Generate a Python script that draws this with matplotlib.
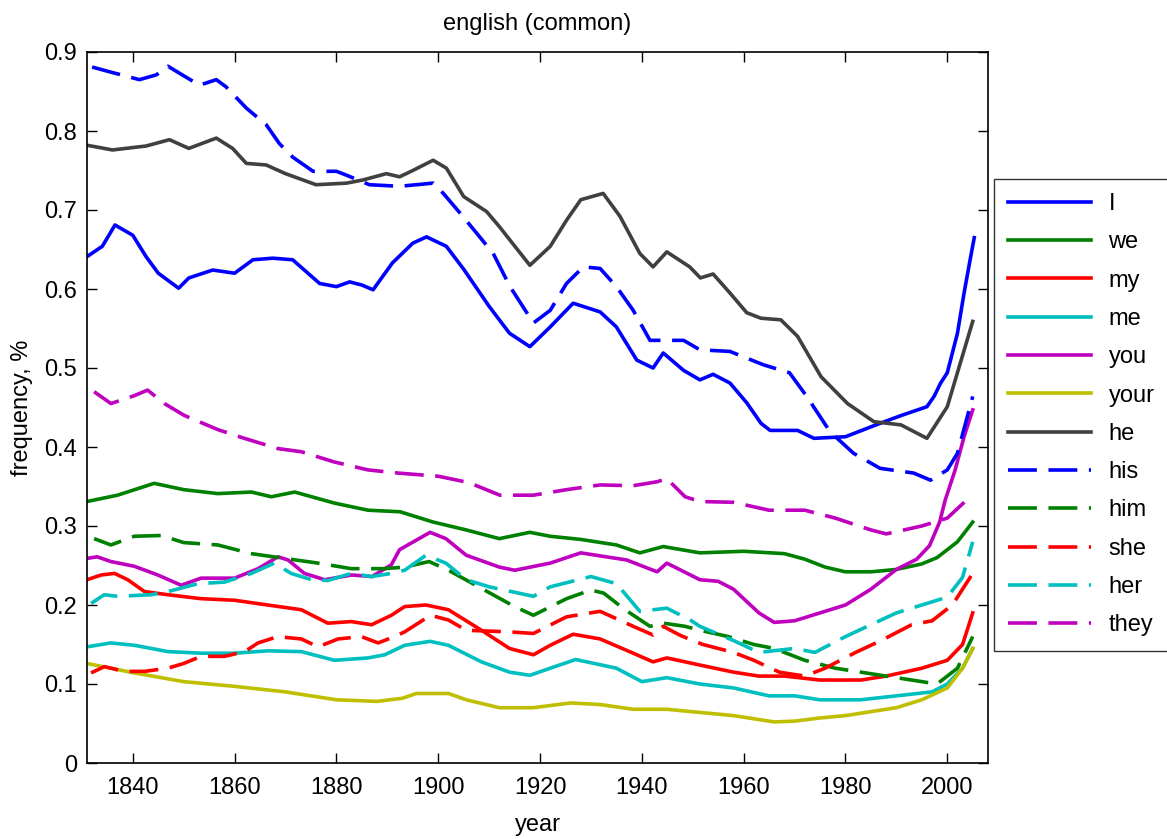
import matplotlib
matplotlib.use("Agg")
import matplotlib.pyplot as plt

# ---- data ----
I_years = [1831, 1834, 1836.5, 1840, 1842.6, 1845, 1849, 1851, 1855.7, 1860, 1863.6, 1867.5, 1871.4, 1876.7, 1880,
           1882.6, 1885, 1887.2, 1891, 1895, 1897.7, 1901.6, 1905, 1910, 1914, 1918, 1922, 1926.5, 1931.8, 1935, 1939,
           1942.2, 1944.2, 1948.2, 1951.4, 1954, 1957.3, 1960.6, 1963.4, 1965.2, 1970.6, 1973.8, 1980, 1986.8, 1991,
           1996, 1997.4, 1998.7, 2000, 2002, 2003.3, 2004.6, 2005.3]
I_vals = [0.641, 0.654, 0.681, 0.668, 0.641, 0.620, 0.601, 0.614, 0.624, 0.620, 0.637, 0.639, 0.637, 0.607, 0.603,
          0.609, 0.605, 0.599, 0.633, 0.658, 0.666, 0.654, 0.625, 0.578, 0.544, 0.527, 0.552, 0.582, 0.571, 0.552, 0.510,
          0.500, 0.519, 0.497, 0.485, 0.492, 0.481, 0.456, 0.430, 0.421, 0.421, 0.411, 0.413, 0.430, 0.440,
          0.451, 0.464, 0.481, 0.494, 0.544, 0.595, 0.641, 0.665]

we_years = [1831, 1837, 1844.2, 1850, 1856.7, 1863.3, 1867.2, 1871.8, 1879.6, 1886.2, 1892.5, 1899, 1905.5, 1912,
            1918, 1922, 1928, 1935, 1939.6, 1944.2, 1951.4, 1960, 1968, 1972, 1976, 1980, 1985, 1990, 1995, 1998,
            2002, 2005]
we_vals = [0.331, 0.339, 0.354, 0.346, 0.341, 0.343, 0.337, 0.343, 0.329, 0.320, 0.318, 0.305, 0.295, 0.284,
           0.292, 0.287, 0.283, 0.276, 0.266, 0.274, 0.266, 0.268, 0.265, 0.258, 0.248, 0.242, 0.242, 0.245, 0.252,
           0.260, 0.280, 0.305]

my_years = [1831, 1833.8, 1836.4, 1839, 1842.3, 1846.9, 1853.4, 1860, 1866.5, 1873.1, 1878.3, 1882.9, 1886.9,
            1890.8, 1893.4, 1897.6, 1902, 1908.5, 1914, 1918.7, 1922, 1926.5, 1931.8, 1938.3, 1942.2, 1944.9,
            1951.4, 1958, 1963, 1968, 1975, 1983, 1988, 1995, 2000, 2003, 2005]
my_vals = [0.232, 0.238, 0.240, 0.232, 0.217, 0.213, 0.208, 0.206, 0.200, 0.194, 0.177, 0.179, 0.175,
           0.187, 0.198, 0.200, 0.194, 0.168, 0.145, 0.137, 0.149, 0.163, 0.157, 0.139, 0.128, 0.133,
           0.124, 0.115, 0.110, 0.110, 0.105, 0.105, 0.110, 0.120, 0.130, 0.150, 0.190]

me_years = [1831, 1835.7, 1840.3, 1846.9, 1853.4, 1860, 1866.5, 1873.1, 1879.6, 1886.2, 1889.5, 1893.4, 1898.4,
            1902, 1908.5, 1914, 1918, 1922, 1927, 1935, 1940, 1944.9, 1951.4, 1958, 1965, 1970, 1975, 1983, 1990,
            1997, 2000, 2003, 2005]
me_vals = [0.147, 0.152, 0.149, 0.141, 0.139, 0.139, 0.142, 0.141, 0.130, 0.133, 0.137, 0.149, 0.154,
           0.149, 0.128, 0.115, 0.111, 0.120, 0.131, 0.120, 0.103, 0.108, 0.100, 0.095, 0.085, 0.085, 0.080, 0.080,
           0.085, 0.090, 0.100, 0.120, 0.145]

you_years = [1831, 1833, 1835.7, 1840.3, 1844.9, 1849.5, 1853.4, 1860, 1864.6, 1868.5, 1870.5, 1873.7, 1877.7,
             1883, 1887, 1890.8, 1892.4, 1898.4, 1901.5, 1905.5, 1912, 1915, 1922, 1928, 1932, 1937, 1943, 1944.9,
             1951.4, 1955, 1958, 1963, 1966, 1970, 1975, 1980, 1985, 1990, 1994, 1996.5, 1998.5, 1999.6, 2001.5,
             2003.3, 2005]
you_vals = [0.259, 0.261, 0.255, 0.249, 0.238, 0.225, 0.234, 0.234, 0.246, 0.261, 0.257, 0.240, 0.232,
            0.238, 0.236, 0.251, 0.270, 0.292, 0.284, 0.263, 0.248, 0.244, 0.253, 0.266, 0.262, 0.257, 0.242, 0.253,
            0.232, 0.230, 0.220, 0.190, 0.178, 0.180, 0.190, 0.200, 0.220, 0.245, 0.258, 0.275, 0.305, 0.333, 0.370,
            0.413, 0.447]

your_years = [1831, 1840.3, 1850, 1860, 1870, 1880, 1888, 1893, 1895.7, 1902, 1905.5, 1912, 1918.7, 1926, 1931.8,
              1938.3, 1944.9, 1951.4, 1958, 1966, 1970, 1975, 1980, 1985, 1990, 1995, 2000, 2003, 2005]
your_vals = [0.126, 0.114, 0.103, 0.097, 0.090, 0.080, 0.078, 0.082, 0.088, 0.088, 0.080, 0.070, 0.070, 0.076,
             0.074, 0.068, 0.068, 0.064, 0.060, 0.052, 0.053, 0.057, 0.060, 0.065, 0.070, 0.080, 0.095, 0.120, 0.145]

he_years = [1831, 1836, 1842.6, 1847.2, 1851, 1856.4, 1859.6, 1862.3, 1866.2, 1870, 1876, 1882, 1885.2, 1889.8,
            1892.4, 1895, 1899, 1901.6, 1905, 1909.5, 1912, 1918, 1922, 1925.2, 1928, 1932.4, 1935.7, 1939.6, 1942.2,
            1944.9, 1949.4, 1951.5, 1954, 1957.3, 1960.6, 1963.4, 1967.3, 1970.6, 1975.2, 1980.4, 1985.6, 1990.9,
            1996, 2000, 2005]
he_vals = [0.782, 0.776, 0.781, 0.789, 0.778, 0.791, 0.778, 0.759, 0.757, 0.746, 0.732, 0.734, 0.738, 0.746,
           0.742, 0.750, 0.763, 0.753, 0.717, 0.698, 0.679, 0.630, 0.654, 0.687, 0.713, 0.721, 0.692, 0.645, 0.628,
           0.647, 0.628, 0.614, 0.619, 0.595, 0.570, 0.563, 0.561, 0.540, 0.489, 0.455, 0.432, 0.428,
           0.411, 0.451, 0.559]

his_years = [1832, 1835.4, 1841.3, 1844.6, 1846.9, 1849.2, 1853.1, 1856.4, 1858.3, 1862.3, 1866.2, 1868.8, 1871.4,
             1875.4, 1880, 1882, 1886.5, 1892.4, 1899, 1901, 1904.3, 1907.5, 1910.8, 1914.1, 1918.7, 1922, 1925.2,
             1928.5, 1931.8, 1935, 1938.3, 1941.6, 1944.9, 1948.2, 1951.4, 1957.3, 1963.9, 1969, 1972.4, 1977,
             1981.6, 1986.8, 1993.4, 1996.7, 2000, 2002, 2005]
his_vals = [0.881, 0.875, 0.865, 0.871, 0.882, 0.873, 0.858, 0.865, 0.856, 0.829, 0.808, 0.784, 0.767,
            0.749, 0.749, 0.744, 0.732, 0.730, 0.734, 0.721, 0.696, 0.671, 0.645, 0.603, 0.557, 0.573, 0.607,
            0.628, 0.626, 0.603, 0.573, 0.535, 0.535, 0.535, 0.523, 0.521, 0.504, 0.494, 0.464, 0.419,
            0.392, 0.373, 0.367, 0.358, 0.371, 0.392, 0.464]

him_years = [1832.4, 1835.7, 1840.3, 1845.6, 1850, 1856.7, 1863.3, 1869.8, 1876.4, 1882.9, 1889.5, 1893.4, 1898.2,
             1902, 1908.5, 1915, 1918.7, 1925.2, 1930, 1932.5, 1936.7, 1941.6, 1944.2, 1948.5, 1951.4, 1957, 1962,
             1966, 1972, 1978, 1983, 1988, 1993, 1998, 2002, 2005]
him_vals = [0.284, 0.276, 0.287, 0.288, 0.279, 0.276, 0.265, 0.259, 0.253, 0.246, 0.246, 0.248, 0.255,
            0.244, 0.221, 0.198, 0.187, 0.208, 0.219, 0.215, 0.194, 0.173, 0.177, 0.173, 0.168, 0.160, 0.150,
            0.145, 0.130, 0.120, 0.115, 0.110, 0.105, 0.100, 0.120, 0.160]

she_years = [1831.8, 1834.4, 1838.3, 1842.3, 1846.9, 1850, 1853.4, 1858, 1862, 1864.6, 1868.5, 1873.1, 1876.4,
             1880.3, 1884.9, 1888.2, 1891.4, 1893.4, 1898.5, 1902, 1905.5, 1914, 1918.7, 1925.2, 1931.8, 1938.3,
             1942.2, 1944.2, 1947.4, 1950, 1952, 1958, 1962, 1967, 1972, 1976, 1982, 1987, 1993, 1997, 2001, 2005]
she_vals = [0.114, 0.122, 0.116, 0.116, 0.120, 0.126, 0.135, 0.135, 0.141, 0.152, 0.160, 0.157, 0.147,
            0.157, 0.160, 0.152, 0.160, 0.166, 0.187, 0.181, 0.168, 0.166, 0.164, 0.185, 0.192, 0.173,
            0.162, 0.173, 0.162, 0.155, 0.150, 0.140, 0.130, 0.115, 0.110, 0.120, 0.140, 0.155, 0.175, 0.180, 0.200,
            0.240]

her_years = [1831.8, 1834.4, 1837, 1843.6, 1846.9, 1852.8, 1858, 1863.3, 1867.8, 1871.1, 1875.1, 1878.3, 1882.9,
             1886.9, 1890.8, 1893.4, 1897.6, 1901.5, 1905.5, 1910, 1918.7, 1922, 1930, 1935, 1939.6, 1944.9,
             1949.5, 1951.4, 1958, 1963, 1970, 1974, 1980, 1985, 1990, 1995, 2000, 2003, 2005]
her_vals = [0.202, 0.213, 0.211, 0.213, 0.217, 0.227, 0.229, 0.240, 0.253, 0.240, 0.232, 0.231, 0.240,
            0.236, 0.240, 0.244, 0.263, 0.253, 0.232, 0.223, 0.211, 0.223, 0.236, 0.227, 0.192, 0.196,
            0.181, 0.173, 0.155, 0.140, 0.145, 0.140, 0.160, 0.175, 0.190, 0.200, 0.210, 0.235, 0.280]

they_years = [1832.4, 1835.7, 1840.3, 1842.9, 1846.2, 1850.1, 1856.7, 1861.9, 1868.5, 1873.1, 1879.6, 1886.2,
              1892.1, 1900, 1906, 1912.1, 1918.7, 1925.2, 1931.8, 1938.3, 1943, 1944.9, 1948.5, 1951.4, 1958,
              1965, 1972, 1978, 1985, 1988, 1995, 2000, 2005]
they_vals = [0.470, 0.455, 0.465, 0.472, 0.455, 0.440, 0.422, 0.411, 0.398, 0.394, 0.381, 0.371,
             0.367, 0.363, 0.355, 0.339, 0.339, 0.346, 0.352, 0.351, 0.356, 0.360, 0.337, 0.331, 0.330,
             0.320, 0.320, 0.310, 0.295, 0.290, 0.300, 0.310, 0.340]

labels = ["I", "we", "my", "me", "you", "your", "he", "his", "him", "she", "her", "they"]
series = [(I_years, I_vals), (we_years, we_vals), (my_years, my_vals), (me_years, me_vals),
          (you_years, you_vals), (your_years, your_vals), (he_years, he_vals), (his_years, his_vals),
          (him_years, him_vals), (she_years, she_vals), (her_years, her_vals), (they_years, they_vals)]

x_ticks = [1840, 1860, 1880, 1900, 1920, 1940, 1960, 1980, 2000]
y_ticks = [0, 0.1, 0.2, 0.3, 0.4, 0.5, 0.6, 0.7, 0.8, 0.9]
y_ticklabels = ["0", "0.1", "0.2", "0.3", "0.4", "0.5", "0.6", "0.7", "0.8", "0.9"]

# ---- styling ----
colors = [(0, 0, 1), (0, 0.5, 0), (1, 0, 0), (0, 0.75, 0.75), (0.75, 0, 0.75), (0.75, 0.75, 0),
          (0.25, 0.25, 0.25), (0, 0, 1), (0, 0.5, 0), (1, 0, 0), (0, 0.75, 0.75), (0.75, 0, 0.75)]
styles = ["-"] * 7 + [(0, (8, 3.2))] * 5

plt.rcParams['font.family'] = ['Liberation Sans', 'DejaVu Sans']
FS = 17

W, H = 1167, 839
fig = plt.figure(figsize=(W / 100, H / 100), dpi=100)
ax = fig.add_axes([87 / W, 1 - 763 / H, 901 / W, 711 / H])

for (xs, ys), lab, col, ls in zip(series, labels, colors, styles):
    ax.plot(xs, ys, color=col, linestyle=ls, linewidth=2.6, label=lab)

ax.set_xlim(1831, 2008)
ax.set_ylim(0, 0.9)
ax.set_xticks(x_ticks)
ax.set_yticks(y_ticks)
ax.set_yticklabels(y_ticklabels)
ax.tick_params(direction='in', top=True, right=True, length=7, width=1.0, labelsize=FS)
ax.tick_params(axis='x', pad=10)
ax.tick_params(axis='y', pad=7)
for sp in ax.spines.values():
    sp.set_linewidth(1.2)

ax.set_title("english (common)", fontsize=FS, pad=16)
ax.set_xlabel("year", fontsize=FS)
ax.set_ylabel("frequency, %", fontsize=FS)
ax.xaxis.label.set_va('center')
ax.yaxis.label.set_va('center')
ax.xaxis.set_label_coords(0.5, (763 - 825) / 711)
ax.yaxis.set_label_coords((22 - 87) / 901, 0.5)

leg = fig.legend(loc='upper left', bbox_to_anchor=(994 / W, 1 - 179 / H), fontsize=FS,
                 handlelength=3.5, handletextpad=0.75, labelspacing=0.69, borderpad=0.6,
                 fancybox=False, frameon=True, edgecolor='black', borderaxespad=0)
leg.get_frame().set_linewidth(1.0)

fig.savefig("out.png", dpi=100)
